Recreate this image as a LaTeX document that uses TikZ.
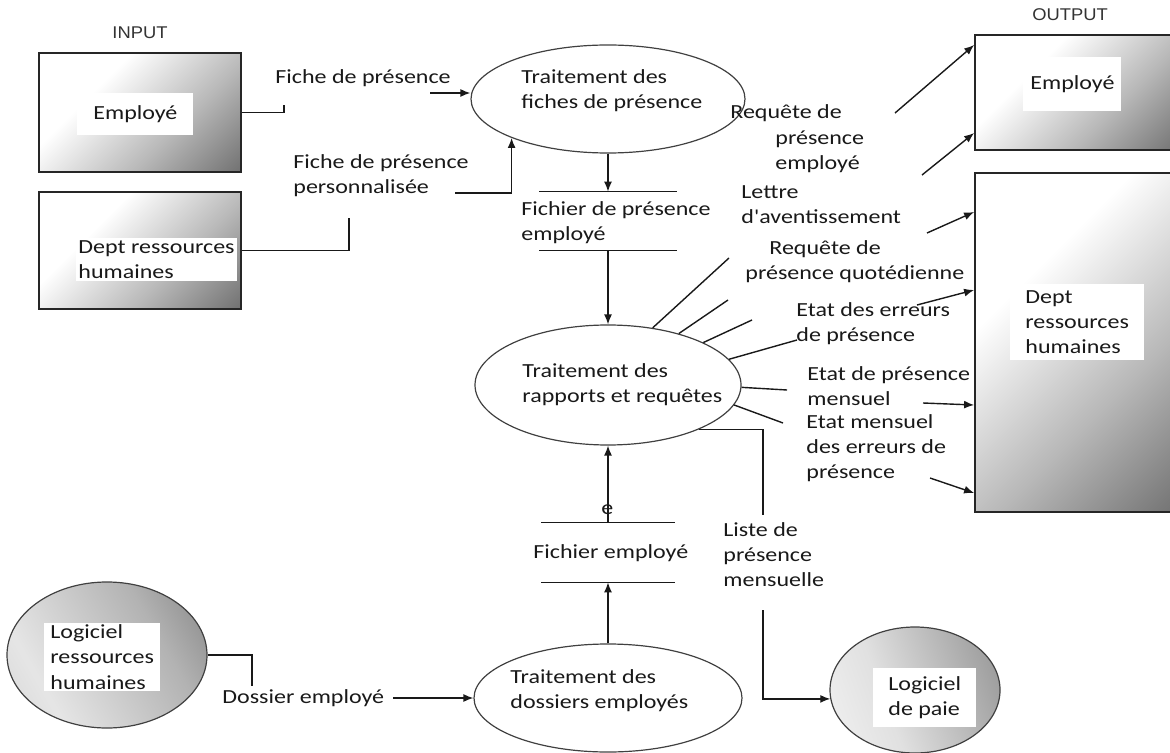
\documentclass[tikz,border=0pt]{standalone}
\usepackage{fontspec}
\setmainfont{Carlito}[FakeStretch=1.2,Ligatures=TeXOff]
\newfontfamily\arialf{Liberation Sans}[FakeStretch=1.08]
\usetikzlibrary{arrows.meta,shapes.geometric}
\pgfdeclarehorizontalshading{boxsh}{100bp}{color(0bp)=(white); color(35bp)=(white); color(62bp)=(black!28); color(85bp)=(black!55); color(100bp)=(black!82)}
\pgfdeclarehorizontalshading{ovsh}{100bp}{color(0bp)=(black!22); color(30bp)=(black!10); color(65bp)=(black!30); color(100bp)=(black!62)}
\pgfdeclarehorizontalshading{paish}{100bp}{color(0bp)=(white); color(40bp)=(black!12); color(100bp)=(black!55)}
\begin{document}
\begin{tikzpicture}[x=0.5pt,y=-0.5pt,
  every node/.style={font=\fontsize{10}{12.6}\selectfont, text=black!90},
  txt/.style={inner sep=0pt, anchor=west, align=left},
  patch/.style={txt, fill=white},
  ext/.style={draw=black!85, line width=0.9pt, shading=boxsh, shading angle=-45, inner sep=0pt},
  proc/.style={ellipse, draw=black!75, line width=0.6pt, inner sep=0pt},
  flow/.style={draw=black!90, line width=0.7pt},
  arr/.style={flow, -{Latex[length=5pt,width=4pt]}},
  ioh/.style={font=\arialf\fontsize{8.5}{10}\selectfont, text=black!80}
]
\useasboundingbox (0,0) rectangle (1170,753);
\clip (0,0) rectangle (1170,753);

% external entities
\node[ext, minimum width=101pt, minimum height=59.5pt] (inEmp) at (140,112.5) {};
\node[ext, minimum width=101pt, minimum height=58.5pt] (inDept) at (140,250.5) {};
\node[ext, minimum width=102.5pt, minimum height=57.5pt] (outEmp) at (1077.5,92.5) {};
\node[ext, minimum width=102.5pt, minimum height=169.5pt] (outDept) at (1077.5,342.5) {};
\node[proc, shading=ovsh, shading angle=30, minimum width=100pt, minimum height=73pt] (lrh) at (107,655) {};
\node[proc, shading=paish, shading angle=20, minimum width=85pt, minimum height=63pt] (paie) at (915,690) {};

% processes
\node[proc, minimum width=137pt, minimum height=54pt] (e1) at (608,99) {};
\node[proc, minimum width=133pt, minimum height=60pt] (e2) at (608,385) {};
\node[proc, minimum width=134pt, minimum height=54pt] (e3) at (608,698) {};

% data stores
\node[minimum width=68.5pt, minimum height=29pt, inner sep=0pt] (s1) at (608,221) {};
\node[minimum width=66.5pt, minimum height=29.5pt, inner sep=0pt] (s2) at (608,552.5) {};
\draw[flow] (s1.north west) -- (s1.north east) (s1.south west) -- (s1.south east);
\draw[flow] (s2.north west) -- (s2.north east) (s2.south west) -- (s2.south east);

% flows
\coordinate (c1a) at (284,112.5);
\coordinate (c1b) at (284,105);
\coordinate (c1c) at (430,93);
\draw[flow] (inEmp.east) -- (c1a) -- (c1b);
\draw[arr] (c1c) -- (c1c -| e1.west);

\coordinate (c2a) at (349,250.5);
\coordinate (c2b) at (349,218);
\coordinate (c2c) at (455,193);
\draw[flow] (inDept.east) -- (c2a) -- (c2b);
\draw[arr] (c2c) -| (e1.202.7);

\draw[arr] (e1.south) -- (s1.north);
\draw[arr] (s1.south) -- (e2.north);
\draw[arr] (s2.north) -- (e2.south);
\draw[arr] (e3.north) -- (s2.south);

\coordinate (c7a) at (252,655);
\coordinate (c7b) at (252,686);
\coordinate (c7c) at (393,698);
\draw[flow] (lrh.east) -- (c7a) -- (c7b);
\draw[arr] (c7c) -- (c7c -| e3.west);

\coordinate (c8a) at (763,515);
\coordinate (c8b) at (763,610);
\draw[flow] (e2.-26) -| (c8a);
\draw[arr] (c8b) |- (paie.186.8);

% fan of outgoing flows
\coordinate (f1) at (729,258);
\coordinate (f2) at (728,300);
\coordinate (f3) at (752,320);
\coordinate (f4) at (797,340);
\coordinate (f5) at (787,390);
\coordinate (f6) at (783,423);
\draw[flow] (e2.52) -- (f1);
\draw[flow] (e2.36) -- (f2);
\draw[flow] (e2.24) -- (f3);
\draw[flow] (e2.12) -- (f4);
\draw[flow] (e2.-1) -- (f5);
\draw[flow] (e2.-9) -- (f6);

\coordinate (g1) at (895,113);
\coordinate (g2) at (922,175);
\coordinate (g3) at (927,233);
\coordinate (g4) at (917,305);
\coordinate (g5) at (923,403);
\coordinate (g6) at (930,478);
\draw[arr] (g1) -- (outEmp.west |- 0,45);
\draw[arr] (g2) -- (outEmp.west |- 0,133);
\draw[arr] (g3) -- (outDept.west |- 0,212);
\draw[arr] (g4) -- (outDept.west |- 0,290);
\draw[arr] (g5) -- (outDept.west |- 0,405);
\draw[arr] (g6) -- (outDept.west |- 0,493);

% texts in shapes
\node[patch, inner xsep=8pt, inner ysep=6pt] (tinEmp) at (77,114) {Employé};
\node[patch, inner xsep=1pt, inner ysep=1pt] (tinDept) at (76,259.5) {Dept ressources\\humaines};
\node[patch, inner xsep=3.5pt, inner ysep=9pt] (toutEmp) at (1023,84) {Employé};
\node[patch, inner xsep=7.5pt, inner ysep=3pt] (toutDept) at (1010,322) {Dept\\ressources\\humaines};
\node[patch, inner xsep=3pt, inner ysep=1pt] (tlrh) at (44,657) {Logiciel\\ressources\\humaines};
\node[patch, inner xsep=7.5pt, inner ysep=4pt] (tpaie) at (873,697.5) {Logiciel\\de paie};

\node[txt] (te1) at (521,90.5) {Traitement des\\fiches de présence};
\node[txt] (te2) at (522,384.5) {Traitement des\\rapports et requêtes};
\node[txt] (te3) at (510,690.5) {Traitement des\\dossiers employés};
\node[txt] (ts1) at (521,223) {Fichier de présence\\employé};
\node[txt] (ts2) at (533,553) {Fichier employé};
\node[txt] (tstray) at (601,510) {e};

% flow labels
\node[txt] (l1) at (275,78) {Fiche de présence};
\node[txt] (l2) at (293,175.5) {Fiche de présence\\personnalisée};
\node[txt] (l3) at (730,138.7) {Requête de\\\hspace*{22.5pt}présence\\\hspace*{22.5pt}employé};
\node[txt] (l4) at (741,204.5) {Lettre\\d'aventissement};
\node[txt] (l5) at (745,261.5) {\hspace*{12pt}Requête de\\présence quotédienne};
\node[txt] (l6) at (796,323.5) {Etat des erreurs\\de présence};
\node[txt] (l7) at (807,386) {Etat de présence\\mensuel};
\node[txt] (l8) at (806,448) {Etat mensuel\\des erreurs de\\présence};
\node[txt] (l9) at (723,554.5) {Liste de\\présence\\mensuelle};
\node[txt] (l10) at (222,698) {Dossier employé};

% headings
\node[ioh] (hin) at (140,33) {INPUT};
\node[ioh] (hout) at (1070,15) {OUTPUT};
\end{tikzpicture}
\end{document}
